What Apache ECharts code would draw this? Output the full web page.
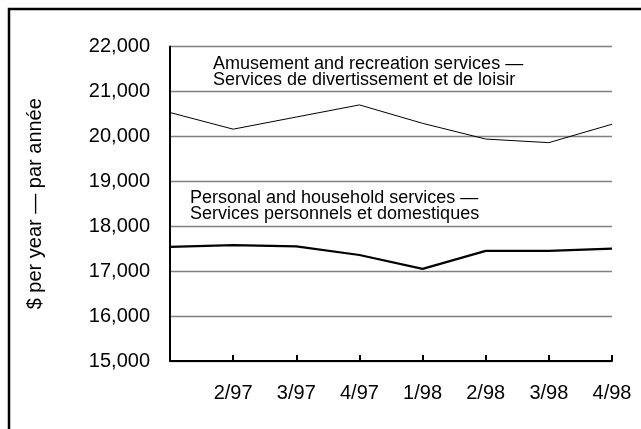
<!DOCTYPE html>
<html>
<head>
<meta charset="utf-8">
<script src="https://cdn.jsdelivr.net/npm/echarts@6/dist/echarts.min.js"></script>
<style>
	html, body { margin: 0; padding: 0; background: #fff; }
	#chart { width: 641px; height: 429px; }
</style>
</head>
<body>
<div id="chart"></div>
<script>
var quarters = ['1/97', '2/97', '3/97', '4/97', '1/98', '2/98', '3/98', '4/98'];
var amusement = [20530, 20160, 20430, 20700, 20290, 19940, 19860, 20270];
var personal = [17540, 17580, 17550, 17360, 17050, 17450, 17450, 17500];
var yTicks = [15000, 22000, 1000];

var amusementLabel = ['Amusement and recreation services —', 'Services de divertissement et de loisir'];
var personalLabel = ['Personal and household services —', 'Services personnels et domestiques'];

function fmt(v) {
	return String(v).replace(/\B(?=(\d{3})+(?!\d))/g, ',');
}

function chart(ele) {
	var myChart = echarts.init(ele);
	var font = 'Liberation Sans, Arial, sans-serif';
	var option = {
		animation: false,
		backgroundColor: '#fff',
		grid: {
			left: 170,
			right: 29,
			top: 46.5,
			bottom: 68
		},
		xAxis: {
			type: 'category',
			data: quarters,
			boundaryGap: false,
			axisLine: {lineStyle: {color: '#000', width: 2}},
			axisTick: {inside: true, length: 6, lineStyle: {color: '#000', width: 2}},
			axisLabel: {
				color: '#000',
				fontFamily: font,
				fontSize: 20,
				margin: 22,
				formatter: function (v, i) { return i === 0 ? '' : v; }
			},
			splitLine: {show: false}
		},
		yAxis: {
			type: 'value',
			min: yTicks[0],
			max: yTicks[1],
			interval: yTicks[2],
			name: '$ per year — par année',
			nameLocation: 'middle',
			nameGap: 125,
			nameTextStyle: {color: '#000', fontFamily: font, fontSize: 20},
			axisLine: {show: true, lineStyle: {color: '#000', width: 2}},
			axisTick: {show: false},
			axisLabel: {
				color: '#000',
				fontFamily: font,
				fontSize: 20,
				margin: 20,
				formatter: fmt
			},
			splitLine: {lineStyle: {color: '#808080', width: 1.3}}
		},
		series: [
			{
				name: amusementLabel[0],
				type: 'line',
				data: amusement,
				symbol: 'none',
				lineStyle: {color: '#000', width: 1}
			},
			{
				name: personalLabel[0],
				type: 'line',
				data: personal,
				symbol: 'none',
				lineStyle: {color: '#000', width: 2.2}
			}
		],
		graphic: [
			{
				type: 'rect',
				shape: {x: 9, y: 9, width: 700, height: 500},
				style: {fill: 'none', stroke: '#000', lineWidth: 2.5},
				silent: true
			},
			{
				type: 'text',
				left: 213,
				top: 55,
				style: {
					text: amusementLabel.join('\n'),
					font: '18px ' + font,
					lineHeight: 16.5,
					fill: '#000'
				}
			},
			{
				type: 'text',
				left: 190,
				top: 189,
				style: {
					text: personalLabel.join('\n'),
					font: '18px ' + font,
					lineHeight: 16.5,
					fill: '#000'
				}
			}
		]
	};
	myChart.setOption(option);
}

chart(document.getElementById('chart'));
</script>
</body>
</html>
